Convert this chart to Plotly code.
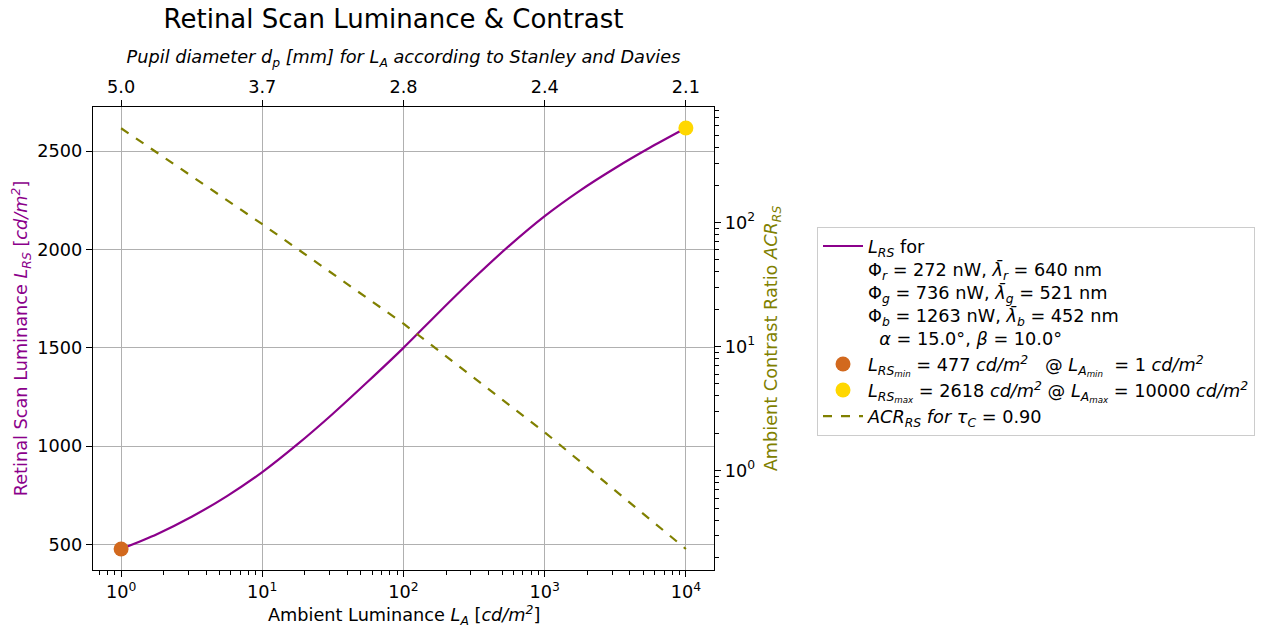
import plotly.graph_objects as go

# ---------------- data ----------------
ambient_luminance = [1, 1.778, 3.162, 5.623, 10, 17.78, 31.62, 56.23, 100,
                     177.8, 316.2, 562.3, 1000, 1778, 3162, 5623, 10000]
retinal_luminance = [477, 551, 641, 746, 868, 1010, 1165, 1330, 1500,
                     1680, 1855, 2020, 2170, 2300, 2415, 2520, 2618]

acr_luminance = [1, 10, 100, 1000, 10000]
acr_values = [574, 96.8, 15.3, 2.04, 0.234]

lrs_min_point = (1, 477)
lrs_max_point = (10000, 2618)

x_tick_vals = [1, 10, 100, 1000, 10000]
x_tick_text = ["10<sup>0</sup>", "10<sup>1</sup>", "10<sup>2</sup>", "10<sup>3</sup>", "10<sup>4</sup>"]
pupil_tick_text = ["5.0", "3.7", "2.8", "2.4", "2.1"]
y_tick_vals = [500, 1000, 1500, 2000, 2500]
acr_tick_vals = [1, 10, 100]
acr_tick_text = ["10<sup>0</sup>", "10<sup>1</sup>", "10<sup>2</sup>"]

# ---------------- styling ----------------
OFF = 8                      # default page margin of the html body
W, H = 1265 - 2 * OFF, 633 - 2 * OFF
FONT = "DejaVu Sans"
PURPLE = "#8B008B"
OLIVE = "#808000"
ORANGE = "#D2691E"
GOLD = "#FFD700"
GRID = "#b0b0b0"
FS = 17.7


def fx(px):
    return (px - OFF) / W


def fy(py):
    return 1 - (py - OFF) / H


px_left, px_right, px_top, px_bottom = 93, 714, 107, 570
xdom = [fx(px_left), fx(px_right)]
ydom = [fy(px_bottom), fy(px_top)]

x_minor = [m * 10 ** e for e in range(-1, 5) for m in range(2, 10)]
x_minor = [v for v in x_minor if 0.62 < v < 16000]
y2_minor = [m * 10 ** e for e in range(-1, 3) for m in range(2, 10)]
y2_minor = [v for v in y2_minor if 0.15 < v < 860]

sp = "\u00a0"
lrs_name = ("<i>L<sub>RS</sub></i> for<br>"
            "Φ<sub><i>r</i></sub> = 272 nW, <i>λ̄<sub>r</sub></i> = 640 nm<br>"
            "Φ<sub><i>g</i></sub> = 736 nW, <i>λ̄<sub>g</sub></i> = 521 nm<br>"
            "Φ<sub><i>b</i></sub> = 1263 nW, <i>λ̄<sub>b</sub></i> = 452 nm<br>"
            + sp * 2 + "<i>α</i> = 15.0°, <i>β</i> = 10.0°")
min_name = ("<i>L<sub>RS<sub>min</sub></sub></i> = 477 <i>cd/m<sup>2</sup></i>" + sp * 3 +
            "@ <i>L<sub>A<sub>min</sub></sub></i>" + sp * 2 + "= 1 <i>cd/m<sup>2</sup></i>")
max_name = ("<i>L<sub>RS<sub>max</sub></sub></i> = 2618 <i>cd/m<sup>2</sup></i> "
            "@ <i>L<sub>A<sub>max</sub></sub></i> = 10000 <i>cd/m<sup>2</sup></i>")
acr_name = "<i>ACR<sub>RS</sub> for τ<sub>C</sub></i> = 0.90"

fig = go.Figure()

fig.add_trace(go.Scatter(
    x=ambient_luminance, y=retinal_luminance, mode="lines", name=lrs_name,
    line=dict(color=PURPLE, width=2.2, shape="spline", smoothing=0.6),
    xaxis="x", yaxis="y", legendrank=1))

fig.add_trace(go.Scatter(
    x=[lrs_min_point[0]], y=[lrs_min_point[1]], mode="markers", name=min_name,
    marker=dict(color=ORANGE, size=15), cliponaxis=False,
    xaxis="x", yaxis="y", legendrank=2))

fig.add_trace(go.Scatter(
    x=[lrs_max_point[0]], y=[lrs_max_point[1]], mode="markers", name=max_name,
    marker=dict(color=GOLD, size=15), cliponaxis=False,
    xaxis="x", yaxis="y", legendrank=3))

fig.add_trace(go.Scatter(
    x=acr_luminance, y=acr_values, mode="lines", name=acr_name,
    line=dict(color=OLIVE, width=2.2, dash="dash"),
    xaxis="x", yaxis="y2", legendrank=4))

# invisible trace to anchor the top (pupil diameter) axis
fig.add_trace(go.Scatter(
    x=x_tick_vals, y=[retinal_luminance[0]] * len(x_tick_vals), mode="markers",
    marker=dict(opacity=0), showlegend=False, hoverinfo="skip",
    xaxis="x2", yaxis="y"))

common_axis = dict(showline=True, linecolor="black", linewidth=1.4,
                   ticks="outside", ticklen=6, tickwidth=1.3, tickcolor="black",
                   tickfont=dict(family=FONT, size=FS, color="black"),
                   zeroline=False, automargin=False)

fig.update_layout(
    width=W, height=H,
    margin=dict(l=0, r=0, t=0, b=0),
    paper_bgcolor="white", plot_bgcolor="white",
    font=dict(family=FONT, size=FS, color="black"),
    title=dict(text="Retinal Scan Luminance & Contrast",
               font=dict(family=FONT, size=26, color="black"),
               x=fx(393.5), xanchor="center", y=fy(19), yanchor="middle"),
    xaxis=dict(
        **common_axis, type="log", domain=xdom, anchor="y",
        range=[-0.199, 4.199],
        tickmode="array", tickvals=x_tick_vals, ticktext=x_tick_text,
        showgrid=True, gridcolor=GRID, gridwidth=1.1,
        minor=dict(ticks="outside", ticklen=3.5, tickwidth=1, tickcolor="black",
                   tickmode="array", tickvals=x_minor, showgrid=False),
    ),
    xaxis2=dict(
        **common_axis, type="log", domain=xdom, anchor="y", overlaying="x", side="top",
        range=[-0.199, 4.199],
        tickmode="array", tickvals=x_tick_vals, ticktext=pupil_tick_text,
        showgrid=False,
        title=dict(text="<i>Pupil diameter d<sub>p</sub> [mm] for L<sub>A</sub> according to Stanley and Davies</i>",
                   font=dict(family=FONT, size=FS, color="black"), standoff=8),
    ),
    yaxis=dict(
        **common_axis, domain=ydom, anchor="x",
        range=[370, 2725],
        tickmode="array", tickvals=y_tick_vals,
        showgrid=True, gridcolor=GRID, gridwidth=1.1,
        title=dict(text="Retinal Scan Luminance <i>L<sub>RS</sub></i> [<i>cd/m<sup>2</sup></i>]",
                   font=dict(family=FONT, size=FS, color=PURPLE), standoff=14),
    ),
    yaxis2=dict(
        **common_axis, type="log", domain=ydom, anchor="x", overlaying="y", side="right",
        range=[-0.80, 2.93],
        tickmode="array", tickvals=acr_tick_vals, ticktext=acr_tick_text,
        showgrid=False,
        minor=dict(ticks="outside", ticklen=3.5, tickwidth=1, tickcolor="black",
                   tickmode="array", tickvals=y2_minor, showgrid=False),
        title=dict(text="Ambient Contrast Ratio <i>ACR<sub>RS</sub></i>",
                   font=dict(family=FONT, size=FS, color=OLIVE), standoff=10),
    ),
    legend=dict(
        x=fx(817), y=fy(227), xanchor="left", yanchor="top",
        bgcolor="white", bordercolor="#cccccc", borderwidth=1,
        font=dict(family=FONT, size=FS, color="black"),
        valign="top", traceorder="normal", itemwidth=40,
    ),
    showlegend=True,
    annotations=[dict(
        text="Ambient Luminance <i>L<sub>A</sub></i> [<i>cd/m<sup>2</sup></i>]",
        xref="paper", yref="paper", x=fx(403.5), y=fy(615),
        xanchor="center", yanchor="middle", showarrow=False,
        font=dict(family=FONT, size=FS, color="black"))],
)

fig.write_html("out.html")
